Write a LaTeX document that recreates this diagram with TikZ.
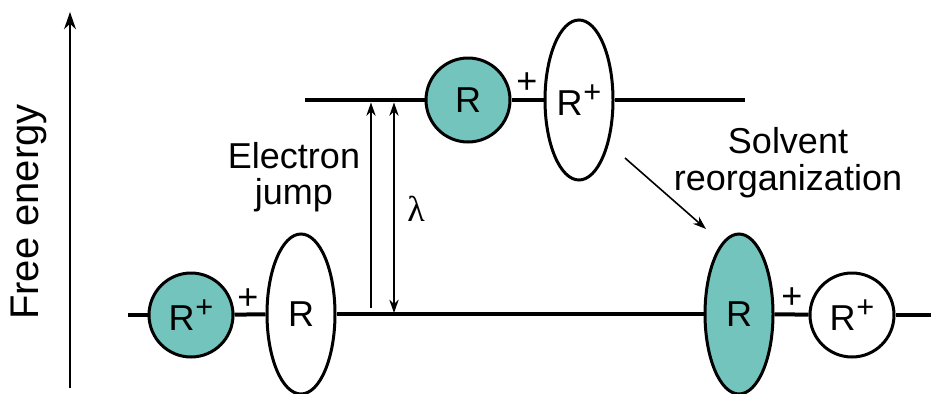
\documentclass[tikz,border=0pt]{standalone}
\usepackage{fontspec}
\setmainfont{Liberation Sans}
\newfontfamily\lamfont{Liberation Serif}
\usetikzlibrary{arrows.meta,shapes.geometric}
\definecolor{tealfill}{RGB}{114,196,188}
\newcommand{\rplus}{R\kern0.5pt\raisebox{10pt}{\fontsize{23}{23}\selectfont +}}
\begin{document}
\begin{tikzpicture}[x=0.75pt,y=-0.75pt,
  mol/.style={draw, line width=2.25pt, inner sep=0pt, font=\fontsize{27}{32}\selectfont},
  circ/.style={mol, circle, minimum size=63pt},
  ell/.style={mol, ellipse, minimum width=51pt, minimum height=120pt},
  lvl/.style={line width=3pt},
  lbl/.style={font=\fontsize{27}{32}\selectfont, inner sep=0pt},
  thinarr/.style={line width=1.2pt, -{Stealth[length=10pt,width=7pt]}}]
\useasboundingbox (0,0) rectangle (931,393);
% axis
\coordinate (ax0) at (70,388);
\coordinate (ax1) at (70,12);
\draw[line width=1.5pt, -{Stealth[length=13pt,width=9pt]}] (ax0) -- (ax1);
\node[font=\fontsize{30}{36}\selectfont, rotate=90, inner sep=0pt] (fe) at (29,212) {Free energy};
% molecules
\node[circ, fill=tealfill] (c1) at (191,315) {\rplus};
\node[ell, fill=white] (e1) at (301,314) {R};
\node[ell, fill=tealfill] (e2) at (739,314) {R};
\node[circ, fill=white] (c2) at (852,315) {\rplus};
\node[circ, fill=tealfill] (c3) at (468,100) {R};
\node[ell, fill=white] (e3) at (579,100) {\rplus};
% level lines
\coordinate (bl) at (128,315);
\coordinate (br) at (931,315);
\coordinate (tl) at (305,100);
\coordinate (tr) at (745,100);
\draw[lvl] (bl) -- (c1);
\draw[lvl] (c1) -- (e1);
\draw[lvl] (e1) -- (e2);
\draw[lvl] (e2) -- (c2);
\draw[lvl] (c2) -- (br);
\draw[lvl] (tl) -- (c3);
\draw[lvl] (c3) -- (e3);
\draw[lvl] (e3) -- (tr);
% plus signs
\node[lbl] (p1) at (248,299) {+};
\node[lbl] (p2) at (527,83) {+};
\node[lbl] (p3) at (792,298) {+};
% vertical arrows
\coordinate (ja) at (371,308);
\coordinate (jb) at (371,102.5);
\coordinate (la) at (394,102.5);
\coordinate (lb) at (394,313);
\draw[thinarr] (ja) -- (jb);
\draw[line width=1.2pt, {Stealth[length=10pt,width=7pt]}-{Stealth[length=10pt,width=7pt]}] (la) -- (lb);
\node[lbl] (lam) at (416,209) {\lamfont λ};
% labels
\node[lbl, anchor=base] (el1) at (294,168) {Electron};
\node[lbl, anchor=base] (el2) at (294,204) {jump};
\node[lbl, anchor=base] (s1) at (788,153) {Solvent};
\node[lbl, anchor=base] (s2) at (788,190) {reorganization};
% solvent arrow
\coordinate (sa) at (625,158);
\coordinate (sb) at (706,229);
\draw[thinarr] (sa) -- (sb);
\end{tikzpicture}
\end{document}
